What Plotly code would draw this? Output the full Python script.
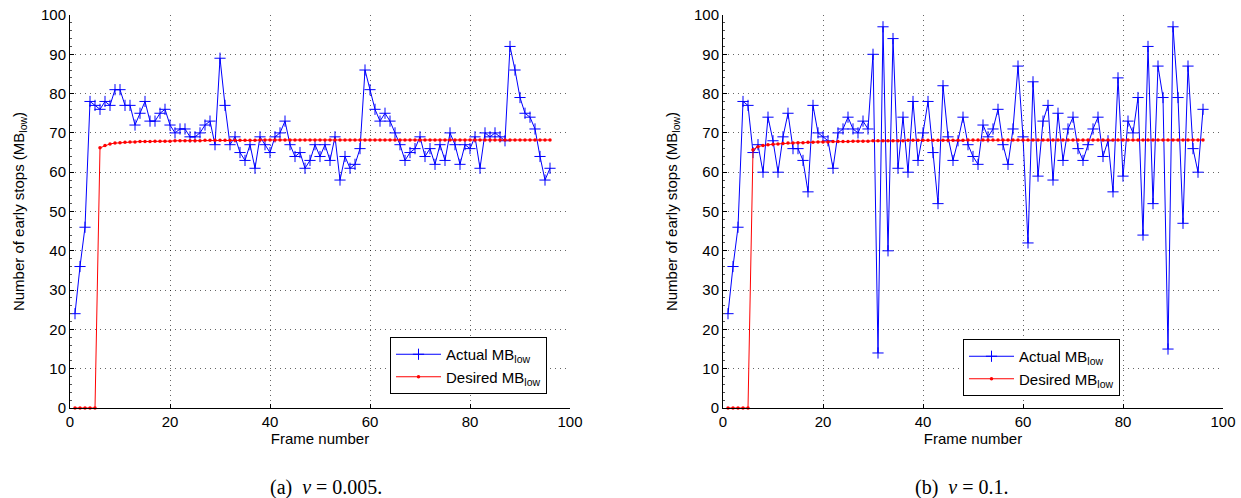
import plotly.graph_objects as go

frames = list(range(1, 97))

actual_a = [24, 36, 46, 78, 77, 76, 78, 77, 81, 81, 77, 77, 72, 75, 78, 73, 73, 75, 76, 72,
            70, 71, 71, 69, 69, 70, 72, 73, 67, 89, 77, 67, 69, 65, 63, 67, 61, 69, 67, 65,
            69, 70, 73, 67, 64, 65, 61, 63, 67, 64, 67, 63, 69, 58, 64, 61, 62, 66, 86, 81,
            76, 73, 75, 73, 70, 67, 63, 65, 66, 69, 64, 66, 62, 67, 63, 70, 67, 62, 67, 66,
            69, 61, 70, 69, 70, 69, 68, 92, 86, 79, 75, 74, 71, 64, 58, 61]

desired_a = [0, 0, 0, 0, 0, 66.2, 66.8, 67.2, 67.4, 67.5, 67.6, 67.7, 67.7, 67.8, 67.8, 67.8,
             67.9, 67.9, 67.9, 67.9, 68.0, 68.0, 68.0, 68.0, 68.0, 68.0, 68.1, 68.1, 68.1, 68.1,
             68.1, 68.1, 68.1, 68.1, 68.1, 68.1, 68.1, 68.2, 68.2, 68.2, 68.2, 68.2, 68.2, 68.2,
             68.2, 68.2, 68.2, 68.2, 68.2, 68.2, 68.2, 68.2, 68.2, 68.2, 68.2, 68.2, 68.2, 68.2,
             68.2, 68.2, 68.2, 68.2, 68.2, 68.2, 68.2, 68.2, 68.2, 68.2, 68.2, 68.2, 68.2, 68.2,
             68.2, 68.2, 68.2, 68.2, 68.2, 68.2, 68.2, 68.2, 68.2, 68.2, 68.2, 68.2, 68.2, 68.2,
             68.2, 68.2, 68.2, 68.2, 68.2, 68.2, 68.2, 68.2, 68.2, 68.2]

actual_b = [24, 36, 46, 78, 77, 65, 67, 60, 74, 68, 60, 69, 75, 66, 66, 63, 55, 77, 70, 69,
            68, 61, 70, 71, 74, 71, 70, 73, 71, 90, 14, 97, 40, 94, 61, 74, 60, 78, 63, 70,
            78, 65, 52, 82, 69, 63, 68, 74, 67, 64, 62, 72, 69, 71, 76, 67, 62, 71, 87, 69,
            42, 83, 59, 73, 77, 58, 75, 63, 71, 74, 66, 63, 67, 71, 74, 64, 68, 55, 84, 59,
            73, 70, 79, 44, 92, 52, 87, 79, 15, 97, 79, 47, 87, 66, 60, 76]

desired_b = [0, 0, 0, 0, 0, 65.7, 66.5, 66.8, 67.0, 67.1, 67.2, 67.3, 67.4, 67.4, 67.5, 67.5,
             67.6, 67.6, 67.7, 67.7, 67.7, 67.8, 67.8, 67.8, 67.8, 67.9, 67.9, 67.9, 67.9, 68.0,
             68.0, 68.0, 68.0, 68.0, 68.0, 68.0, 68.1, 68.1, 68.1, 68.1, 68.1, 68.1, 68.1, 68.1,
             68.1, 68.1, 68.1, 68.1, 68.2, 68.2, 68.2, 68.2, 68.2, 68.2, 68.2, 68.2, 68.2, 68.2,
             68.2, 68.2, 68.2, 68.2, 68.2, 68.2, 68.2, 68.2, 68.2, 68.2, 68.2, 68.2, 68.2, 68.2,
             68.2, 68.2, 68.2, 68.2, 68.2, 68.2, 68.2, 68.2, 68.2, 68.2, 68.2, 68.2, 68.2, 68.2,
             68.2, 68.2, 68.2, 68.2, 68.2, 68.2, 68.2, 68.2, 68.2, 68.2]

x_ticks = [0, 20, 40, 60, 80, 100]
y_ticks = [0, 10, 20, 30, 40, 50, 60, 70, 80, 90, 100]

x_title = "Frame number"
y_title = "Number of early stops (MB<sub>low</sub>)"
name_actual = "Actual MB<sub>low</sub>"
name_desired = "Desired MB<sub>low</sub>"
captions = ["(a)  <i>ν</i> = 0.005.", "(b)  <i>ν</i> = 0.1."]

BLUE = "#0000ff"
RED = "#ff0000"
SANS = "Liberation Sans, Arial, sans-serif"
SERIF = "Liberation Serif, Times New Roman, serif"
GRID = "rgba(0,0,0,0.6)"

fig = go.Figure()

for i, (act, des) in enumerate([(actual_a, desired_a), (actual_b, desired_b)]):
    xa = "x" if i == 0 else "x2"
    ya = "y" if i == 0 else "y2"
    lg = "legend" if i == 0 else "legend2"
    fig.add_trace(go.Scatter(
        x=frames, y=act, mode="lines+markers", name=name_actual,
        line=dict(color=BLUE, width=1),
        marker=dict(symbol="cross-thin", size=8, line=dict(color=BLUE, width=1), color=BLUE),
        xaxis=xa, yaxis=ya, legend=lg, cliponaxis=False))
    fig.add_trace(go.Scatter(
        x=frames, y=des, mode="lines+markers", name=name_desired,
        line=dict(color=RED, width=1),
        marker=dict(symbol="circle", size=3.5, color=RED),
        xaxis=xa, yaxis=ya, legend=lg, cliponaxis=False))

W, H = 1241, 498
ml, mr, mt, mb = 70, 18, 15, 90
pw = W - ml - mr

def xaxis_cfg(domain, anchor):
    return dict(domain=domain, anchor=anchor, range=[0, 100], tickvals=x_ticks,
                ticks="inside", ticklen=4, tickcolor="black", tickwidth=1,
                showline=True, linecolor="black", linewidth=1, mirror=False,
                showgrid=True, gridcolor=GRID, griddash="1px,4px", gridwidth=1,
                zeroline=False, tickfont=dict(family=SANS, size=15, color="black"),
                title=dict(text=x_title, font=dict(family=SANS, size=15, color="black"), standoff=2))

def yaxis_cfg(anchor):
    return dict(domain=[0, 1], anchor=anchor, range=[0, 100], tickvals=y_ticks,
                ticks="inside", ticklen=4, tickcolor="black", tickwidth=1,
                minor=dict(dtick=2, ticks="inside", ticklen=2, tickcolor="#555", showgrid=False),
                showline=True, linecolor="black", linewidth=1, mirror=False,
                showgrid=True, gridcolor=GRID, griddash="1px,4px", gridwidth=1,
                zeroline=False, tickfont=dict(family=SANS, size=15, color="black"),
                title=dict(text=y_title, font=dict(family=SANS, size=15, color="black"), standoff=12))

dom_a = [0, 500 / pw]
dom_b = [653 / pw, 1]

legend_common = dict(xanchor="left", yanchor="top", bgcolor="white", bordercolor="black",
                     borderwidth=1, font=dict(family=SANS, size=15, color="black"),
                     itemwidth=45, tracegroupgap=0)

fig.update_layout(
    width=W, height=H,
    margin=dict(l=ml, r=mr, t=mt, b=mb, autoexpand=False),
    paper_bgcolor="white", plot_bgcolor="white",
    xaxis=xaxis_cfg(dom_a, "y"), yaxis=yaxis_cfg("x"),
    xaxis2=xaxis_cfg(dom_b, "y2"), yaxis2=yaxis_cfg("x2"),
    legend=dict(x=(390 - ml) / pw, y=(408 - 337) / 393, **legend_common),
    legend2=dict(x=(963 - ml) / pw, y=(408 - 339) / 393, **legend_common),
    showlegend=True,
    annotations=[
        dict(text=captions[0], x=(326 - ml) / pw, y=(408 - 487) / 393, xref="paper", yref="paper",
             showarrow=False, xanchor="center", yanchor="middle",
             font=dict(family=SERIF, size=20, color="black")),
        dict(text=captions[1], x=(962 - ml) / pw, y=(408 - 487) / 393, xref="paper", yref="paper",
             showarrow=False, xanchor="center", yanchor="middle",
             font=dict(family=SERIF, size=20, color="black")),
    ],
)

fig.write_html("out.html")
